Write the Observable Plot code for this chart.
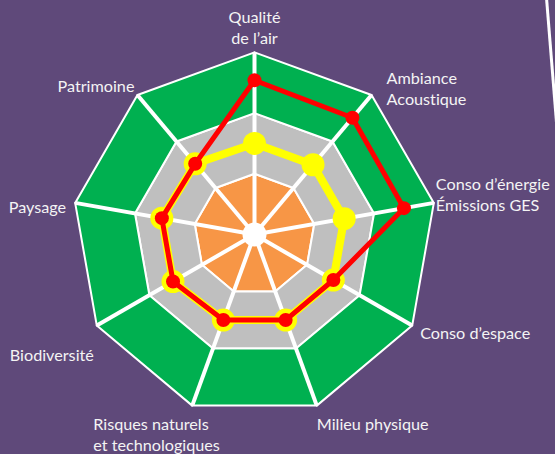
<!DOCTYPE html>
<html><head><meta charset="utf-8">
<script src="https://cdn.jsdelivr.net/npm/d3@7"></script>
<script src="https://cdn.jsdelivr.net/npm/@observablehq/plot@0.6"></script>
<style>
html,body{margin:0;padding:0;background:#5f497a;}
#wrap{position:relative;width:555px;height:454px;overflow:hidden;background:#5f497a;}
#deco{position:absolute;left:545px;top:-2px;width:2.5px;height:170px;background:#fff;transform-origin:top left;transform:rotate(-4.6deg);}
svg text{font-variant-ligatures:none;}
</style></head><body>
<div id="wrap"><div id="chart"></div><div id="deco"></div></div>
<script>
// ---- data ----
const axes = ["Qualité\nde l’air", "Ambiance\nAcoustique", "Conso d’énergie\nÉmissions GES", "Conso d’espace", "Milieu physique", "Risques naturels\net technologiques", "Biodiversité", "Paysage", "Patrimoine"];
const yellowValues = [1.5, 1.5, 1.5, 1.5, 1.5, 1.5, 1.55, 1.55, 1.52];
const redValues = [2.54, 2.51, 2.5, 1.5, 1.5, 1.5, 1.55, 1.55, 1.52];
const ringLevels = [0, 1, 2, 3];

// ---- layout / style ----
const ringColors = ["#f79646", "#bfbfbf", "#00b050"];
const W = 555, H = 454, cx = 254, cy = 234, s = 60.7;
const labelLayout = [
  {anchor: "middle", dx: 0, dy: -25.5},
  {anchor: "start", dx: 15, dy: -7},
  {anchor: "start", dx: 2, dy: -9},
  {anchor: "start", dx: 8, dy: 7},
  {anchor: "start", dx: 0, dy: 18},
  {anchor: "start", dx: -99, dy: 28},
  {anchor: "start", dx: -87, dy: 29},
  {anchor: "end", dx: -9, dy: 3},
  {anchor: "end", dx: -3, dy: -10}
];

const n = axes.length;
const ang = i => 2 * Math.PI * i / n;
const pt = (v, i) => ({x: v * Math.sin(ang(i)), y: v * Math.cos(ang(i))});

const rings = ringColors.map((c, k) => {
  const r0 = ringLevels[k], r1 = ringLevels[k + 1];
  const pts = [];
  for (let i = 0; i < n; i++) {
    const id = k + "-" + i;
    [[r0, i], [r0, i + 1], [r1, i + 1], [r1, i]].forEach(([r, j]) => pts.push({...pt(r, j), id}));
  }
  return {color: c, pts};
});
const outer = ringLevels[ringLevels.length - 1];
const spokes = axes.map((a, i) => ({x1: 0, y1: 0, ...(p => ({x2: p.x, y2: p.y}))(pt(outer, i))}));
const yellowPts = yellowValues.map((v, i) => pt(v, i));
const redPts = redValues.map((v, i) => pt(v, i));
const labels = axes.map((a, i) => ({...pt(outer, i), text: a}));

const marks = [
  ...rings.map(r => Plot.line(r.pts, {x: "x", y: "y", z: "id", curve: "linear-closed", fill: r.color, stroke: "white", strokeWidth: 2})),
  Plot.link(spokes, {x1: "x1", y1: "y1", x2: "x2", y2: "y2", stroke: "white", strokeWidth: 4}),
  Plot.dot([{x: 0, y: 0}], {x: "x", y: "y", r: 12, fill: "white"}),
  Plot.line(yellowPts, {x: "x", y: "y", curve: "linear-closed", stroke: "#ffff00", strokeWidth: 8}),
  Plot.dot(yellowPts, {x: "x", y: "y", r: 11.5, fill: "#ffff00"}),
  Plot.line(redPts, {x: "x", y: "y", curve: "linear-closed", stroke: "#ff0000", strokeWidth: 5}),
  Plot.dot(redPts, {x: "x", y: "y", r: 7, fill: "#ff0000"}),
  ...labels.map((l, i) => Plot.text([l], {x: "x", y: "y", text: "text", textAnchor: labelLayout[i].anchor, dx: labelLayout[i].dx, dy: labelLayout[i].dy, lineAnchor: "middle", lineHeight: 1.3, fill: "#f4f4f4", fontSize: 16.2}))
];

const chart = Plot.plot({
  width: W, height: H, margin: 0,
  style: {background: "#5f497a", fontFamily: "Lato, sans-serif", overflow: "visible"},
  x: {domain: [-cx / s, (W - cx) / s], axis: null},
  y: {domain: [-(H - cy) / s, cy / s], axis: null},
  marks
});
document.getElementById("chart").appendChild(chart);
</script>
</body></html>
